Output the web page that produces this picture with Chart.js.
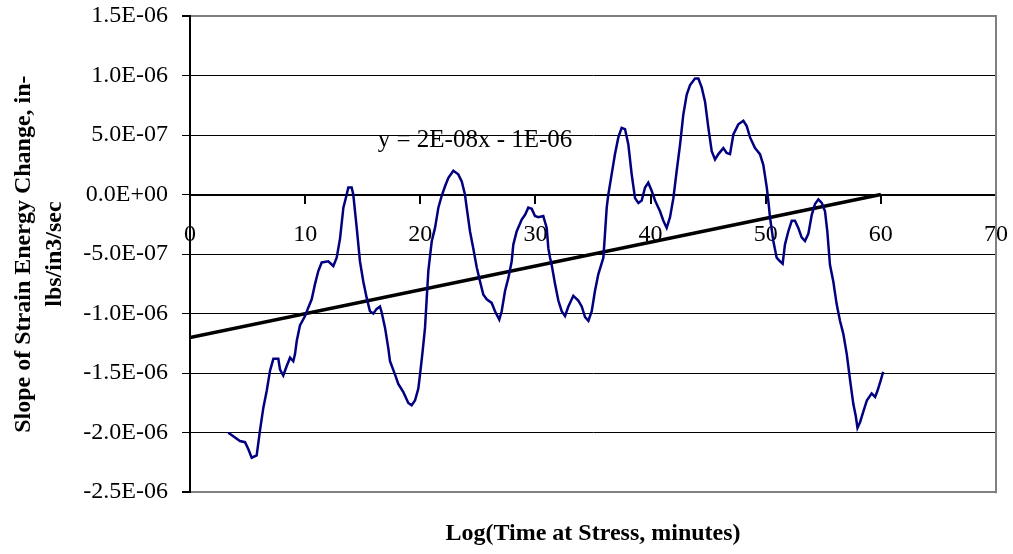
<!DOCTYPE html>
<html>
<head>
<meta charset="utf-8">
<script src="https://cdn.jsdelivr.net/npm/chart.js@4/dist/chart.umd.min.js"></script>
<style>
  html, body { margin: 0; padding: 0; background: #fff; }
  #wrap { width: 1013px; height: 554px; }
</style>
</head>
<body>
<div id="wrap"><canvas id="strainChart"></canvas></div>
<script>
// time at stress (x) and slope of strain energy change in units of 1E-06 (y)
const timeValues = [
    3.33, 3.76, 4.34, 4.78, 5.07, 5.36, 5.79, 6.08, 6.37, 6.66, 6.95, 7.24, 7.67, 7.82, 8.10,
    8.40, 8.69, 8.97, 9.12, 9.27, 9.55, 9.99, 10.27, 10.57, 10.86, 11.15, 11.44, 12.01, 12.45, 12.74,
    13.03, 13.32, 13.61, 13.75, 14.04, 14.18, 14.48, 14.76, 15.05, 15.35, 15.63, 15.92, 16.21, 16.50, 16.65,
    16.94, 17.22, 17.37, 17.80, 18.09, 18.53, 18.96, 19.25, 19.54, 19.83, 19.98, 20.21, 20.41, 20.56, 20.70,
    20.90, 21.00, 21.28, 21.57, 21.86, 22.15, 22.44, 22.87, 23.30, 23.60, 23.88, 24.03, 24.32, 24.60, 24.90,
    25.19, 25.47, 25.77, 26.20, 26.49, 26.86, 27.07, 27.36, 27.65, 27.94, 28.08, 28.37, 28.81, 29.10, 29.38,
    29.68, 29.96, 30.25, 30.68, 30.98, 31.12, 31.27, 31.41, 31.70, 31.99, 32.28, 32.57, 32.86, 33.29, 33.72,
    34.02, 34.31, 34.60, 34.89, 35.17, 35.46, 35.90, 36.04, 36.19, 36.33, 36.62, 36.91, 37.20, 37.49, 37.78,
    38.07, 38.36, 38.65, 38.94, 39.23, 39.52, 39.80, 40.10, 40.39, 40.82, 41.11, 41.40, 41.69, 41.98, 42.27,
    42.56, 42.84, 43.14, 43.43, 43.86, 44.15, 44.44, 44.73, 45.02, 45.31, 45.60, 45.89, 46.32, 46.61, 46.90,
    47.19, 47.62, 48.06, 48.35, 48.64, 49.07, 49.50, 49.79, 50.09, 50.23, 50.37, 50.66, 50.95, 51.24, 51.47,
    51.67, 51.96, 52.26, 52.54, 52.83, 53.12, 53.41, 53.70, 54.00, 54.28, 54.57, 54.87, 55.15, 55.35, 55.58,
    55.87, 56.16, 56.45, 56.74, 57.04, 57.33, 57.61, 57.82, 57.97, 58.20, 58.49, 58.78, 59.20, 59.50, 59.70,
    59.99, 60.20
];
const slopeMicro = [
    -2.00, -2.03, -2.07, -2.08, -2.14, -2.21, -2.19, -1.98, -1.79, -1.65, -1.48, -1.38, -1.38, -1.47, -1.52,
    -1.44, -1.37, -1.40, -1.34, -1.23, -1.10, -1.02, -0.95, -0.88, -0.75, -0.64, -0.57, -0.56, -0.60, -0.53,
    -0.37, -0.11, 0.00, 0.06, 0.06, 0.00, -0.28, -0.56, -0.73, -0.87, -0.98, -1.00, -0.96, -0.94, -0.99,
    -1.12, -1.29, -1.40, -1.51, -1.59, -1.66, -1.75, -1.77, -1.73, -1.63, -1.51, -1.31, -1.12, -0.87, -0.64,
    -0.47, -0.39, -0.28, -0.11, -0.01, 0.07, 0.14, 0.20, 0.17, 0.11, 0.00, -0.11, -0.31, -0.45, -0.61,
    -0.73, -0.84, -0.88, -0.91, -0.98, -1.05, -0.98, -0.81, -0.70, -0.56, -0.42, -0.31, -0.21, -0.17, -0.11,
    -0.12, -0.18, -0.19, -0.18, -0.28, -0.45, -0.53, -0.59, -0.75, -0.89, -0.98, -1.02, -0.94, -0.85, -0.89,
    -0.94, -1.03, -1.06, -0.98, -0.81, -0.67, -0.53, -0.33, -0.11, 0.00, 0.17, 0.34, 0.48, 0.56, 0.55,
    0.42, 0.17, -0.03, -0.07, -0.05, 0.06, 0.10, 0.03, -0.05, -0.14, -0.22, -0.28, -0.19, -0.03, 0.20,
    0.42, 0.67, 0.84, 0.92, 0.975, 0.975, 0.90, 0.78, 0.56, 0.365, 0.295, 0.34, 0.39, 0.35, 0.34,
    0.505, 0.59, 0.62, 0.575, 0.48, 0.39, 0.34, 0.25, 0.06, -0.055, -0.19, -0.39, -0.53, -0.56, -0.58,
    -0.42, -0.31, -0.22, -0.22, -0.28, -0.36, -0.39, -0.33, -0.17, -0.08, -0.04, -0.07, -0.14, -0.31, -0.59,
    -0.73, -0.92, -1.06, -1.17, -1.34, -1.56, -1.76, -1.86, -1.96, -1.91, -1.82, -1.73, -1.67, -1.70, -1.65,
    -1.56, -1.49
];

// linear trendline end points as drawn
const trendX = [0, 60];
const trendY = [-1.2e-6, 0];
const trendLabel = 'y = 2E-08x - 1E-06';
const trendLabelAt = { x: 16.3, y: 4.57e-7 };

const yTickLabels = ['-2.5E-06', '-2.0E-06', '-1.5E-06', '-1.0E-06', '-5.0E-07',
    '0.0E+00', '5.0E-07', '1.0E-06', '1.5E-06'];
const xTickValues = [0, 10, 20, 30, 40, 50, 60, 70];

const serif = "'Liberation Serif', 'Times New Roman', serif";

const slopePoints = timeValues.map((t, i) => ({ x: t, y: slopeMicro[i] * 1e-6 }));
const trendPoints = trendX.map((t, i) => ({ x: t, y: trendY[i] }));

// gray right edge of the plot area plus the equation text
const extras = {
    id: 'extras',
    beforeDatasetsDraw(chart) {
        const { ctx, chartArea } = chart;
        ctx.save();
        ctx.strokeStyle = '#808080';
        ctx.lineWidth = 2;
        ctx.beginPath();
        ctx.moveTo(chartArea.right, chartArea.top - 1);
        ctx.lineTo(chartArea.right, chartArea.bottom + 1);
        ctx.stroke();
        ctx.restore();
    },
    afterDatasetsDraw(chart) {
        const { ctx, scales } = chart;
        ctx.save();
        ctx.font = '25px ' + serif;
        ctx.fillStyle = '#000';
        ctx.textAlign = 'left';
        ctx.textBaseline = 'middle';
        ctx.fillText(trendLabel, scales.x.getPixelForValue(trendLabelAt.x), scales.y.getPixelForValue(trendLabelAt.y));
        ctx.restore();
    }
};

const canvas = document.getElementById('strainChart');

new Chart(canvas, {
    type: 'scatter',
    data: {
        datasets: [{
            data: slopePoints,
            showLine: true,
            borderColor: '#000080',
            borderWidth: 2.5,
            pointRadius: 0,
            tension: 0
        }, {
            data: trendPoints,
            showLine: true,
            borderColor: '#000',
            borderWidth: 3.5,
            pointRadius: 0
        }]
    },
    options: {
        responsive: true,
        maintainAspectRatio: false,
        animation: false,
        events: [],
        layout: { padding: 0 },
        plugins: {
            legend: { display: false },
            tooltip: { enabled: false }
        },
        scales: {
            x: {
                type: 'linear',
                position: { y: 0 },
                min: 0,
                max: 70,
                afterBuildTicks: scale => { scale.ticks = xTickValues.map(v => ({ value: v })); },
                afterFit: scale => { scale.paddingLeft = 0; scale.paddingRight = 17; },
                ticks: {
                    color: '#000',
                    font: { family: serif, size: 24 },
                    padding: 18,
                    maxRotation: 0
                },
                grid: { drawOnChartArea: false, tickLength: 8, color: '#000', lineWidth: 2 },
                border: { color: '#000', width: 2 }
            },
            // only carries the axis title under the plot
            xTitle: {
                type: 'linear',
                position: 'bottom',
                min: 0,
                max: 1,
                ticks: { display: false },
                grid: { display: false, drawTicks: false },
                border: { display: false },
                title: {
                    display: true,
                    text: 'Log(Time at Stress, minutes)',
                    color: '#000',
                    font: { family: serif, size: 24, weight: 'bold' },
                    padding: { top: 27, bottom: 6 }
                }
            },
            y: {
                min: -2.5e-6,
                max: 1.5e-6,
                afterFit: scale => { scale.width = 190; scale.paddingTop = 16; scale.paddingBottom = 0; },
                ticks: {
                    stepSize: 5e-7,
                    color: '#000',
                    font: { family: serif, size: 24 },
                    padding: 14,
                    callback: (v, i) => yTickLabels[i]
                },
                grid: {
                    tickLength: 8,
                    tickColor: '#000',
                    color: c => (c.index === 0 || c.index === yTickLabels.length - 1) ? '#808080' : '#000',
                    lineWidth: c => (c.index === 0 || c.index === yTickLabels.length - 1) ? 2 : 1
                },
                border: { color: '#000', width: 2 },
                title: {
                    display: true,
                    text: ['Slope of Strain Energy Change, in-', 'lbs/in3/sec'],
                    color: '#000',
                    font: { family: serif, size: 24, weight: 'bold', lineHeight: 1.3 },
                    padding: { top: 8, bottom: 0 }
                }
            }
        }
    },
    plugins: [extras]
});
</script>
</body>
</html>
